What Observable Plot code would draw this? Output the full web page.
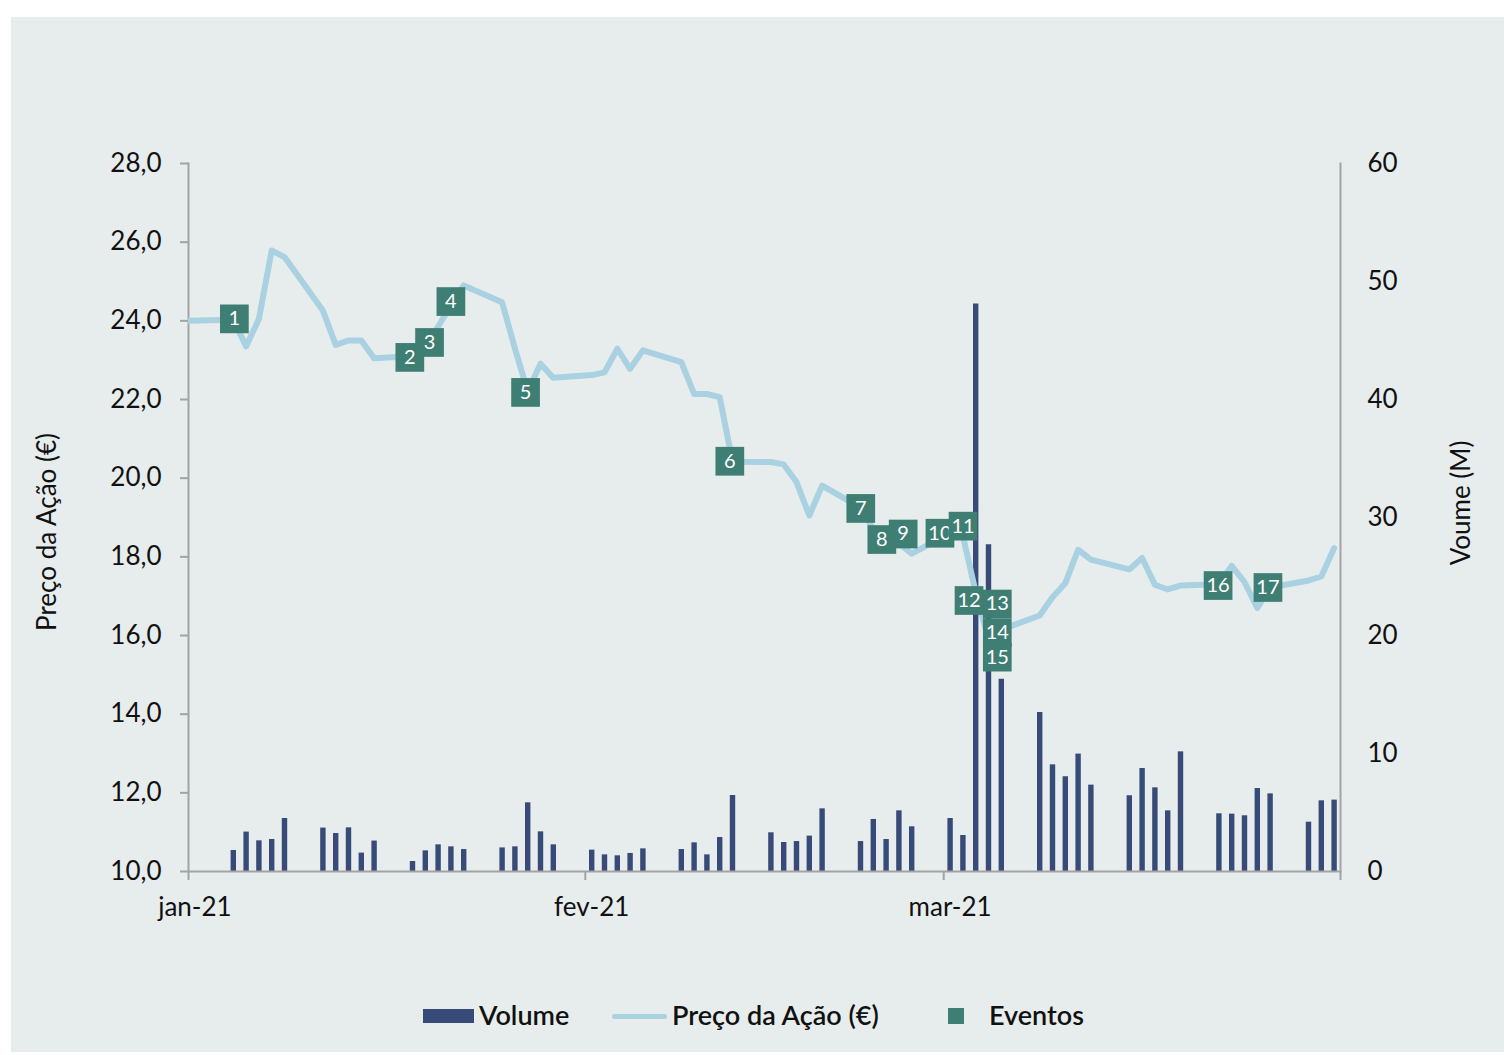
<!DOCTYPE html>
<html>
<head>
<meta charset="utf-8">
<script src="https://cdn.jsdelivr.net/npm/d3@7"></script>
<script src="https://cdn.jsdelivr.net/npm/@observablehq/plot@0.6"></script>
<style>
  html, body { margin: 0; padding: 0; background: #ffffff; }
  #wrap { position: relative; width: 1504px; height: 1055px; overflow: hidden; font-family: Lato, "Noto Sans", sans-serif; color: #111; }
  #panel { position: absolute; left: 11px; top: 17px; width: 1493px; height: 1035px; background: #e7eded; }
  .layer { position: absolute; left: 0; top: 0; }
  .ytitle { position: absolute; font-size: 26px; white-space: nowrap; transform-origin: center center; }
  #legend { position: absolute; left: 0; top: 1000px; width: 1504px; height: 30px; font-size: 27px; font-weight: 600; }
  #legend .item { position: absolute; top: 0; height: 30px; line-height: 30px; white-space: nowrap; }
</style>
</head>
<body>
<div id="wrap">
  <div id="panel"></div>
  <div id="volLayer" class="layer"></div>
  <div id="priceLayer" class="layer"></div>
  <div class="ytitle" id="leftTitle"></div>
  <div class="ytitle" id="rightTitle"></div>
  <div id="legend"></div>
</div>
<script>
// ---------------- DATA ----------------
const tradingDays = [
  "2021-01-04","2021-01-05","2021-01-06","2021-01-07","2021-01-08",
  "2021-01-11","2021-01-12","2021-01-13","2021-01-14","2021-01-15",
  "2021-01-18","2021-01-19","2021-01-20","2021-01-21","2021-01-22",
  "2021-01-25","2021-01-26","2021-01-27","2021-01-28","2021-01-29",
  "2021-02-01","2021-02-02","2021-02-03","2021-02-04","2021-02-05",
  "2021-02-08","2021-02-09","2021-02-10","2021-02-11","2021-02-12",
  "2021-02-15","2021-02-16","2021-02-17","2021-02-18","2021-02-19",
  "2021-02-22","2021-02-23","2021-02-24","2021-02-25","2021-02-26",
  "2021-03-01","2021-03-02","2021-03-03","2021-03-04","2021-03-05",
  "2021-03-08","2021-03-09","2021-03-10","2021-03-11","2021-03-12",
  "2021-03-15","2021-03-16","2021-03-17","2021-03-18","2021-03-19",
  "2021-03-22","2021-03-23","2021-03-24","2021-03-25","2021-03-26",
  "2021-03-29","2021-03-30","2021-03-31"
];
// share price (€)
const priceValues = [
  24.03,23.35,24.05,25.79,25.62,
  24.26,23.39,23.50,23.50,23.05,
  23.10,23.35,23.85,24.40,24.90,
  24.47,23.30,22.20,22.91,22.55,
  22.62,22.69,23.29,22.78,23.25,
  22.95,22.14,22.14,22.06,20.42,
  20.41,20.35,19.90,19.05,19.81,
  19.25,18.70,18.50,18.35,18.08,
  18.60,18.53,17.10,15.90,16.15,
  16.51,16.97,17.33,18.18,17.93,
  17.68,17.97,17.29,17.17,17.27,
  17.30,17.77,17.36,16.70,17.22,
  17.40,17.50,18.22
];
// previous close carried into the start of the period
const openingDate = "2020-12-31";
const openingPrice = 24.0;
// traded volume (M)
const volumeValues = [
  1.78,3.34,2.60,2.71,4.49,
  3.68,3.22,3.70,1.56,2.58,
  0.85,1.75,2.26,2.09,1.86,
  2.00,2.09,5.82,3.36,2.26,
  1.81,1.41,1.33,1.53,1.92,
  1.86,2.43,1.41,2.88,6.44,
  3.28,2.46,2.54,3.00,5.31,
  2.54,4.41,2.71,5.14,3.79,
  4.49,3.05,48.1,27.7,16.3,
  13.47,9.04,8.03,9.95,7.32,
  6.42,8.73,7.09,5.14,10.14,
  4.89,4.86,4.72,7.03,6.58,
  4.18,5.99,6.05
];
// events (label, time, price level)
const eventLabels = ["1","2","3","4","5","6","7","8","9","10","11","12","13","14","15","16","17"];
const eventTimes = [
  "2021-01-04T14:00Z","2021-01-18T07:00Z","2021-01-19T20:00Z","2021-01-21T12:00Z",
  "2021-01-27T08:00Z","2021-02-12T07:00Z","2021-02-22T12:30Z","2021-02-24T04:00Z",
  "2021-02-25T20:00Z","2021-02-28T17:00Z","2021-03-02T12:15Z","2021-03-02T23:30Z",
  "2021-03-05T04:30Z","2021-03-05T04:30Z","2021-03-05T04:30Z","2021-03-22T10:30Z",
  "2021-03-26T08:00Z"
];
const eventValues = [24.05,23.07,23.45,24.49,22.18,20.43,19.23,18.44,18.58,18.60,18.78,16.89,16.80,16.07,15.45,17.27,17.22];

const xDomain = ["2021-01-01","2021-04-01"];
const xTickDates = ["2021-01-01","2021-02-01","2021-03-01","2021-04-01"];
const xLabelDates = ["2021-01-01","2021-02-01","2021-03-01"];
const xTickLabels = ["jan-21","fev-21","mar-21"];
const priceDomain = [10, 28];
const priceTicks = [10,12,14,16,18,20,22,24,26,28];
const volumeDomain = [0, 60];
const volumeTicks = [0,10,20,30,40,50,60];

const seriesNames = ["Volume", "Preço da Ação (€)", "Eventos"];
const leftTitleText = "Preço da Ação (€)";
const rightTitleText = "Voume (M)";

// ---------------- STYLE ----------------
const C = { volume: "#374a78", price: "#a9d1e1", event: "#3e7e73", axis: "#a3a3a3", text: "#111111" };
const W = 1504, H = 960;
const M = { left: 188, right: 164, top: 163, bottom: 89 };
const FONT = 'Lato, "Noto Sans", sans-serif';
const HALF_DAY = 12 * 3600e3;

const parse = s => new Date(s);
const mid = s => new Date(+parse(s) + HALF_DAY);

const volumeRows = tradingDays.map((d, i) => ({ date: mid(d), volume: volumeValues[i] }));
const priceRows = [{ date: mid(openingDate), price: openingPrice }]
  .concat(tradingDays.map((d, i) => ({ date: mid(d), price: priceValues[i] })));
const eventRows = eventLabels.map((l, i) => ({ label: l, date: parse(eventTimes[i]), price: eventValues[i] }));
const labelMap = new Map(xLabelDates.map((d, i) => [+mid(d), xTickLabels[i]]));

const xScale = { type: "utc", domain: xDomain.map(parse) };
const baseStyle = { background: "transparent", overflow: "visible", fontFamily: FONT, fontSize: "26px", color: C.text };

// ----- Volume layer (bottom, right axis) -----
const volPlot = Plot.plot({
  width: W, height: H,
  marginLeft: M.left, marginRight: M.right, marginTop: M.top, marginBottom: M.bottom,
  x: { ...xScale, axis: null },
  y: { domain: volumeDomain, axis: null },
  style: baseStyle,
  marks: [
    Plot.ruleX(volumeRows, { x: "date", y1: 0, y2: "volume", stroke: C.volume, strokeWidth: 5.4 }),
    Plot.axisY({ anchor: "right", ticks: volumeTicks, tickSize: 0, tickPadding: 27, fontSize: 26, fill: C.text, textAnchor: "start", label: null }),
    Plot.frame({ anchor: "right", stroke: C.axis, strokeWidth: 2 })
  ]
});
document.getElementById("volLayer").appendChild(volPlot);

// ----- Price layer (top, left axis, x axis, events) -----
const eventMarks = eventRows.flatMap(e => [
  Plot.dot([e], { x: "date", y: "price", symbol: "square", r: 16.2, fill: C.event, stroke: null }),
  Plot.text([e], { x: "date", y: "price", text: "label", fill: "white", fontSize: 20, fontFamily: FONT })
]);

const pricePlot = Plot.plot({
  width: W, height: H,
  marginLeft: M.left, marginRight: M.right, marginTop: M.top, marginBottom: M.bottom,
  x: { ...xScale, axis: null },
  y: { domain: priceDomain, axis: null },
  style: baseStyle,
  marks: [
    Plot.axisY({ anchor: "left", ticks: priceTicks, tickFormat: d => d.toFixed(1).replace(".", ","), tickSize: 8, tickPadding: 19, fontSize: 26, stroke: C.axis, strokeWidth: 2, fill: C.text, label: null }),
    Plot.axisX({ ticks: xTickDates.map(parse), tickFormat: () => "", tickSize: 9, stroke: C.axis, strokeWidth: 2, label: null }),
    Plot.axisX({ ticks: xLabelDates.map(mid), tickFormat: d => labelMap.get(+d) ?? "", tickSize: 0, tickPadding: 26, fontSize: 26, fill: C.text, label: null }),
    Plot.frame({ anchor: "left", stroke: C.axis, strokeWidth: 2 }),
    Plot.ruleY([priceDomain[0]], { stroke: C.axis, strokeWidth: 2 }),
    Plot.line(priceRows, { x: "date", y: "price", stroke: C.price, strokeWidth: 6, strokeLinejoin: "round", strokeLinecap: "round", clip: true }),
    ...eventMarks
  ]
});
document.getElementById("priceLayer").appendChild(pricePlot);

// ----- Axis titles -----
function placeTitle(id, text, cx, cy) {
  const el = document.getElementById(id);
  el.textContent = text;
  const w = el.offsetWidth, h = el.offsetHeight;
  el.style.left = (cx - w / 2) + "px";
  el.style.top = (cy - h / 2) + "px";
  el.style.transform = "rotate(-90deg)";
}
placeTitle("leftTitle", leftTitleText, 46, 532);
placeTitle("rightTitle", rightTitleText, 1460, 503);

// ----- Legend -----
const legend = document.getElementById("legend");
const items = [
  { name: seriesNames[0], swatch: `<span style="display:inline-block;width:51px;height:14px;background:${C.volume};vertical-align:middle;margin-right:5px;position:relative;top:-2px"></span>`, left: 423 },
  { name: seriesNames[1], swatch: `<span style="display:inline-block;width:55px;height:5px;border-radius:3px;background:${C.price};vertical-align:middle;margin-right:5px;position:relative;top:-2px"></span>`, left: 612 },
  { name: seriesNames[2], swatch: `<span style="display:inline-block;width:16px;height:16px;background:${C.event};vertical-align:middle;margin-right:25px;position:relative;top:-2px"></span>`, left: 948 }
];
for (const it of items) {
  const div = document.createElement("div");
  div.className = "item";
  div.style.left = it.left + "px";
  div.innerHTML = it.swatch + `<span>${it.name}</span>`;
  legend.appendChild(div);
}
</script>
</body>
</html>
